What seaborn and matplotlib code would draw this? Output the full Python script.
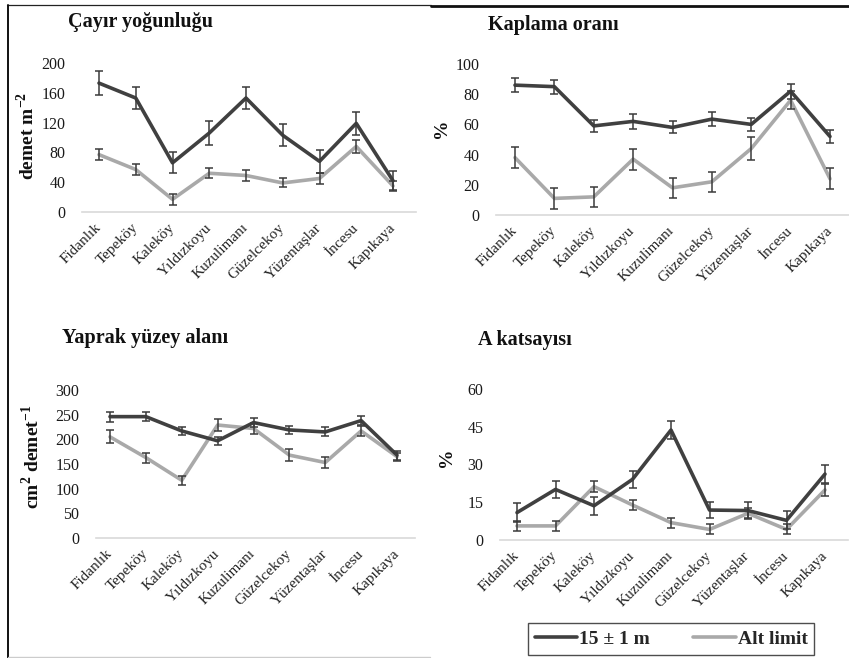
import matplotlib
matplotlib.use("Agg")
import matplotlib.pyplot as plt
from matplotlib.lines import Line2D
import numpy as np
import pandas as pd
import seaborn as sns

sites = ["Fidanlık", "Tepeköy", "Kaleköy", "Yıldızkoyu", "Kuzulimanı",
         "Güzelcekoy", "Yüzentaşlar", "İncesu", "Kapıkaya"]
series_names = ["15 ± 1 m", "Alt limit"]

# Çayır yoğunluğu (demet m-2)
density_15m = [173, 153, 66, 106, 153, 103, 68, 119, 42]
density_15m_err = [16, 15, 14, 16, 15, 15, 15, 15, 13]
density_alt = [77, 57, 17, 52, 49, 39, 45, 88, 35]
density_alt_err = [7, 7, 7, 7, 7, 6, 7, 9, 7]

# Kaplama oranı (%)
cover_15m = [86, 85, 59, 62, 58, 63.5, 60, 82, 52]
cover_15m_err = [4.7, 4.7, 4, 5, 4, 4.5, 4.5, 5, 4]
cover_alt = [38, 11, 12, 37, 18, 22, 44, 76, 24]
cover_alt_err = [7, 7, 6.5, 7, 6.5, 6.7, 7.5, 6, 7]

# Yaprak yüzey alanı (cm2 demet-1)
leaf_15m = [246, 246, 217, 197, 234, 219, 215, 238, 168]
leaf_15m_err = [10, 9, 8.7, 8, 10, 8, 9, 9.5, 9]
leaf_alt = [205, 163, 117, 229, 222, 168, 153, 217, 165]
leaf_alt_err = [13, 10, 9, 13, 12, 12, 11, 10, 8]

# A katsayısı (%)
acoef_15m = [10.9, 20.1, 13.6, 24.1, 43.7, 11.9, 11.7, 7.8, 26.2]
acoef_15m_err = [3.7, 3.3, 3.6, 3.4, 3.6, 3.3, 3.4, 3.6, 3.7]
acoef_alt = [5.6, 5.6, 21.2, 13.9, 6.9, 4.2, 10.6, 4.2, 19.9]
acoef_alt_err = [2, 2, 2.3, 2, 2, 2, 2, 2, 2.5]

titles = ["Çayır yoğunluğu", "Kaplama oranı", "Yaprak yüzey alanı", "A katsayısı"]
ylabels = [r"demet m$^{\mathbf{-2}}$", "%", r"cm$^{\mathbf{2}}$ demet$^{\mathbf{-1}}$", "%"]
yticks = [[0, 40, 80, 120, 160, 200], [0, 20, 40, 60, 80, 100],
          [0, 50, 100, 150, 200, 250, 300], [0, 15, 30, 45, 60]]

panels = [
    (density_15m, density_15m_err, density_alt, density_alt_err),
    (cover_15m, cover_15m_err, cover_alt, cover_alt_err),
    (leaf_15m, leaf_15m_err, leaf_alt, leaf_alt_err),
    (acoef_15m, acoef_15m_err, acoef_alt, acoef_alt_err),
]

sns.set_theme(style="white")
plt.rcParams["font.family"] = ["Liberation Serif", "DejaVu Serif"]
plt.rcParams["mathtext.fontset"] = "custom"
plt.rcParams["mathtext.rm"] = "Liberation Serif"
plt.rcParams["mathtext.bf"] = "Liberation Serif:bold"

W, H = 849, 658
fig = plt.figure(figsize=(W / 100, H / 100), dpi=100)
fig.patch.set_facecolor("white")

DARK = "#404040"
LIGHT = "#a9a9a9"
ERR = "#3a3a3a"

# pixel layout for each panel:
# (axis left, axis right, first category x, last category x, zero y, top y,
#  title x, title y, ylabel x, ylabel y)
layout = [
    (82, 416, 99, 393, 212, 63, 68, 22, 27, 136),
    (496, 849, 515, 830, 215, 64, 488, 25, 441, 128),
    (96, 415, 110, 397, 538, 390, 62, 338, 32, 457),
    (500, 848, 517, 825, 540, 389, 478, 340, 447, 457),
]


def fx(px):
    return px / W


def fy(py):
    return 1 - py / H


for i, (vals, layout_i) in enumerate(zip(panels, layout)):
    L, R, c0, c8, y0, yt, tx, ty, lx, ly = layout_i
    ax = fig.add_axes([fx(L), fy(y0), (R - L) / W, (y0 - yt) / H])
    ax.set_facecolor("none")
    v15, e15, valt, ealt = vals
    n = len(sites)
    df = pd.DataFrame({
        "pos": list(range(n)) * 2,
        "value": list(v15) + list(valt),
        "series": [series_names[0]] * n + [series_names[1]] * n,
    })
    # lighter series first so the darker line sits on top
    sns.lineplot(data=df[df.series == series_names[1]], x="pos", y="value",
                 color=LIGHT, lw=2.6, ax=ax, legend=False, zorder=3)
    sns.lineplot(data=df[df.series == series_names[0]], x="pos", y="value",
                 color=DARK, lw=2.6, ax=ax, legend=False, zorder=4)
    for v, e in ((valt, ealt), (v15, e15)):
        ax.errorbar(range(n), v, yerr=e, fmt="none", ecolor=ERR,
                    elinewidth=1.1, capsize=3, capthick=1.1, zorder=5)

    s = (c8 - c0) / (n - 1)
    ax.set_xlim((L - c0) / s, (R - c0) / s)
    ax.set_ylim(0, yticks[i][-1])
    ax.set_yticks(yticks[i])
    ax.set_xticks(range(n))
    ax.set_xticklabels(sites, rotation=45, ha="right", va="center",
                       rotation_mode="anchor", fontsize=11, color="#222222")
    ax.tick_params(axis="y", length=0, pad=12, labelsize=11.5, labelcolor="#1a1a1a")
    ax.tick_params(axis="x", length=0, pad=10)
    ax.set_xlabel("")
    ax.set_ylabel("")
    for sp in ("top", "right", "left"):
        ax.spines[sp].set_visible(False)
    ax.spines["bottom"].set_color("#d9d9d9")
    ax.spines["bottom"].set_linewidth(1.2)
    ax.grid(False)

    fig.text(fx(tx), fy(ty), titles[i], fontsize=14.5, fontweight="bold",
             ha="left", va="center", color="#111111")
    fig.text(fx(lx), fy(ly), ylabels[i], fontsize=14, fontweight="bold",
             rotation=90, ha="center", va="center", color="#111111")

# legend below the lower-right panel
handles = [Line2D([], [], color=DARK, lw=2.6), Line2D([], [], color=LIGHT, lw=2.6)]
leg = fig.legend(handles, series_names, loc="center",
                 bbox_to_anchor=(fx(671), fy(639)), ncol=2, frameon=True,
                 fancybox=False, handlelength=2.2, handletextpad=0.1,
                 columnspacing=2.2, borderpad=0.35,
                 prop={"family": "Liberation Serif", "weight": "bold", "size": 14})
leg.get_frame().set_edgecolor("#222222")
leg.get_frame().set_linewidth(1.0)

# frame lines around the figure block
fig.add_artist(Line2D([fx(7), fx(431)], [fy(5), fy(5)], color="#222222", lw=0.9))
fig.add_artist(Line2D([fx(431), fx(849)], [fy(5.5), fy(5.5)], color="#111111", lw=2.0))
fig.add_artist(Line2D([fx(7.5), fx(7.5)], [fy(5), fy(658)], color="#111111", lw=1.4))
fig.add_artist(Line2D([fx(8), fx(430)], [fy(656.5), fy(656.5)], color="#cccccc", lw=1.0))

fig.savefig("out.png", dpi=100, facecolor="white")
